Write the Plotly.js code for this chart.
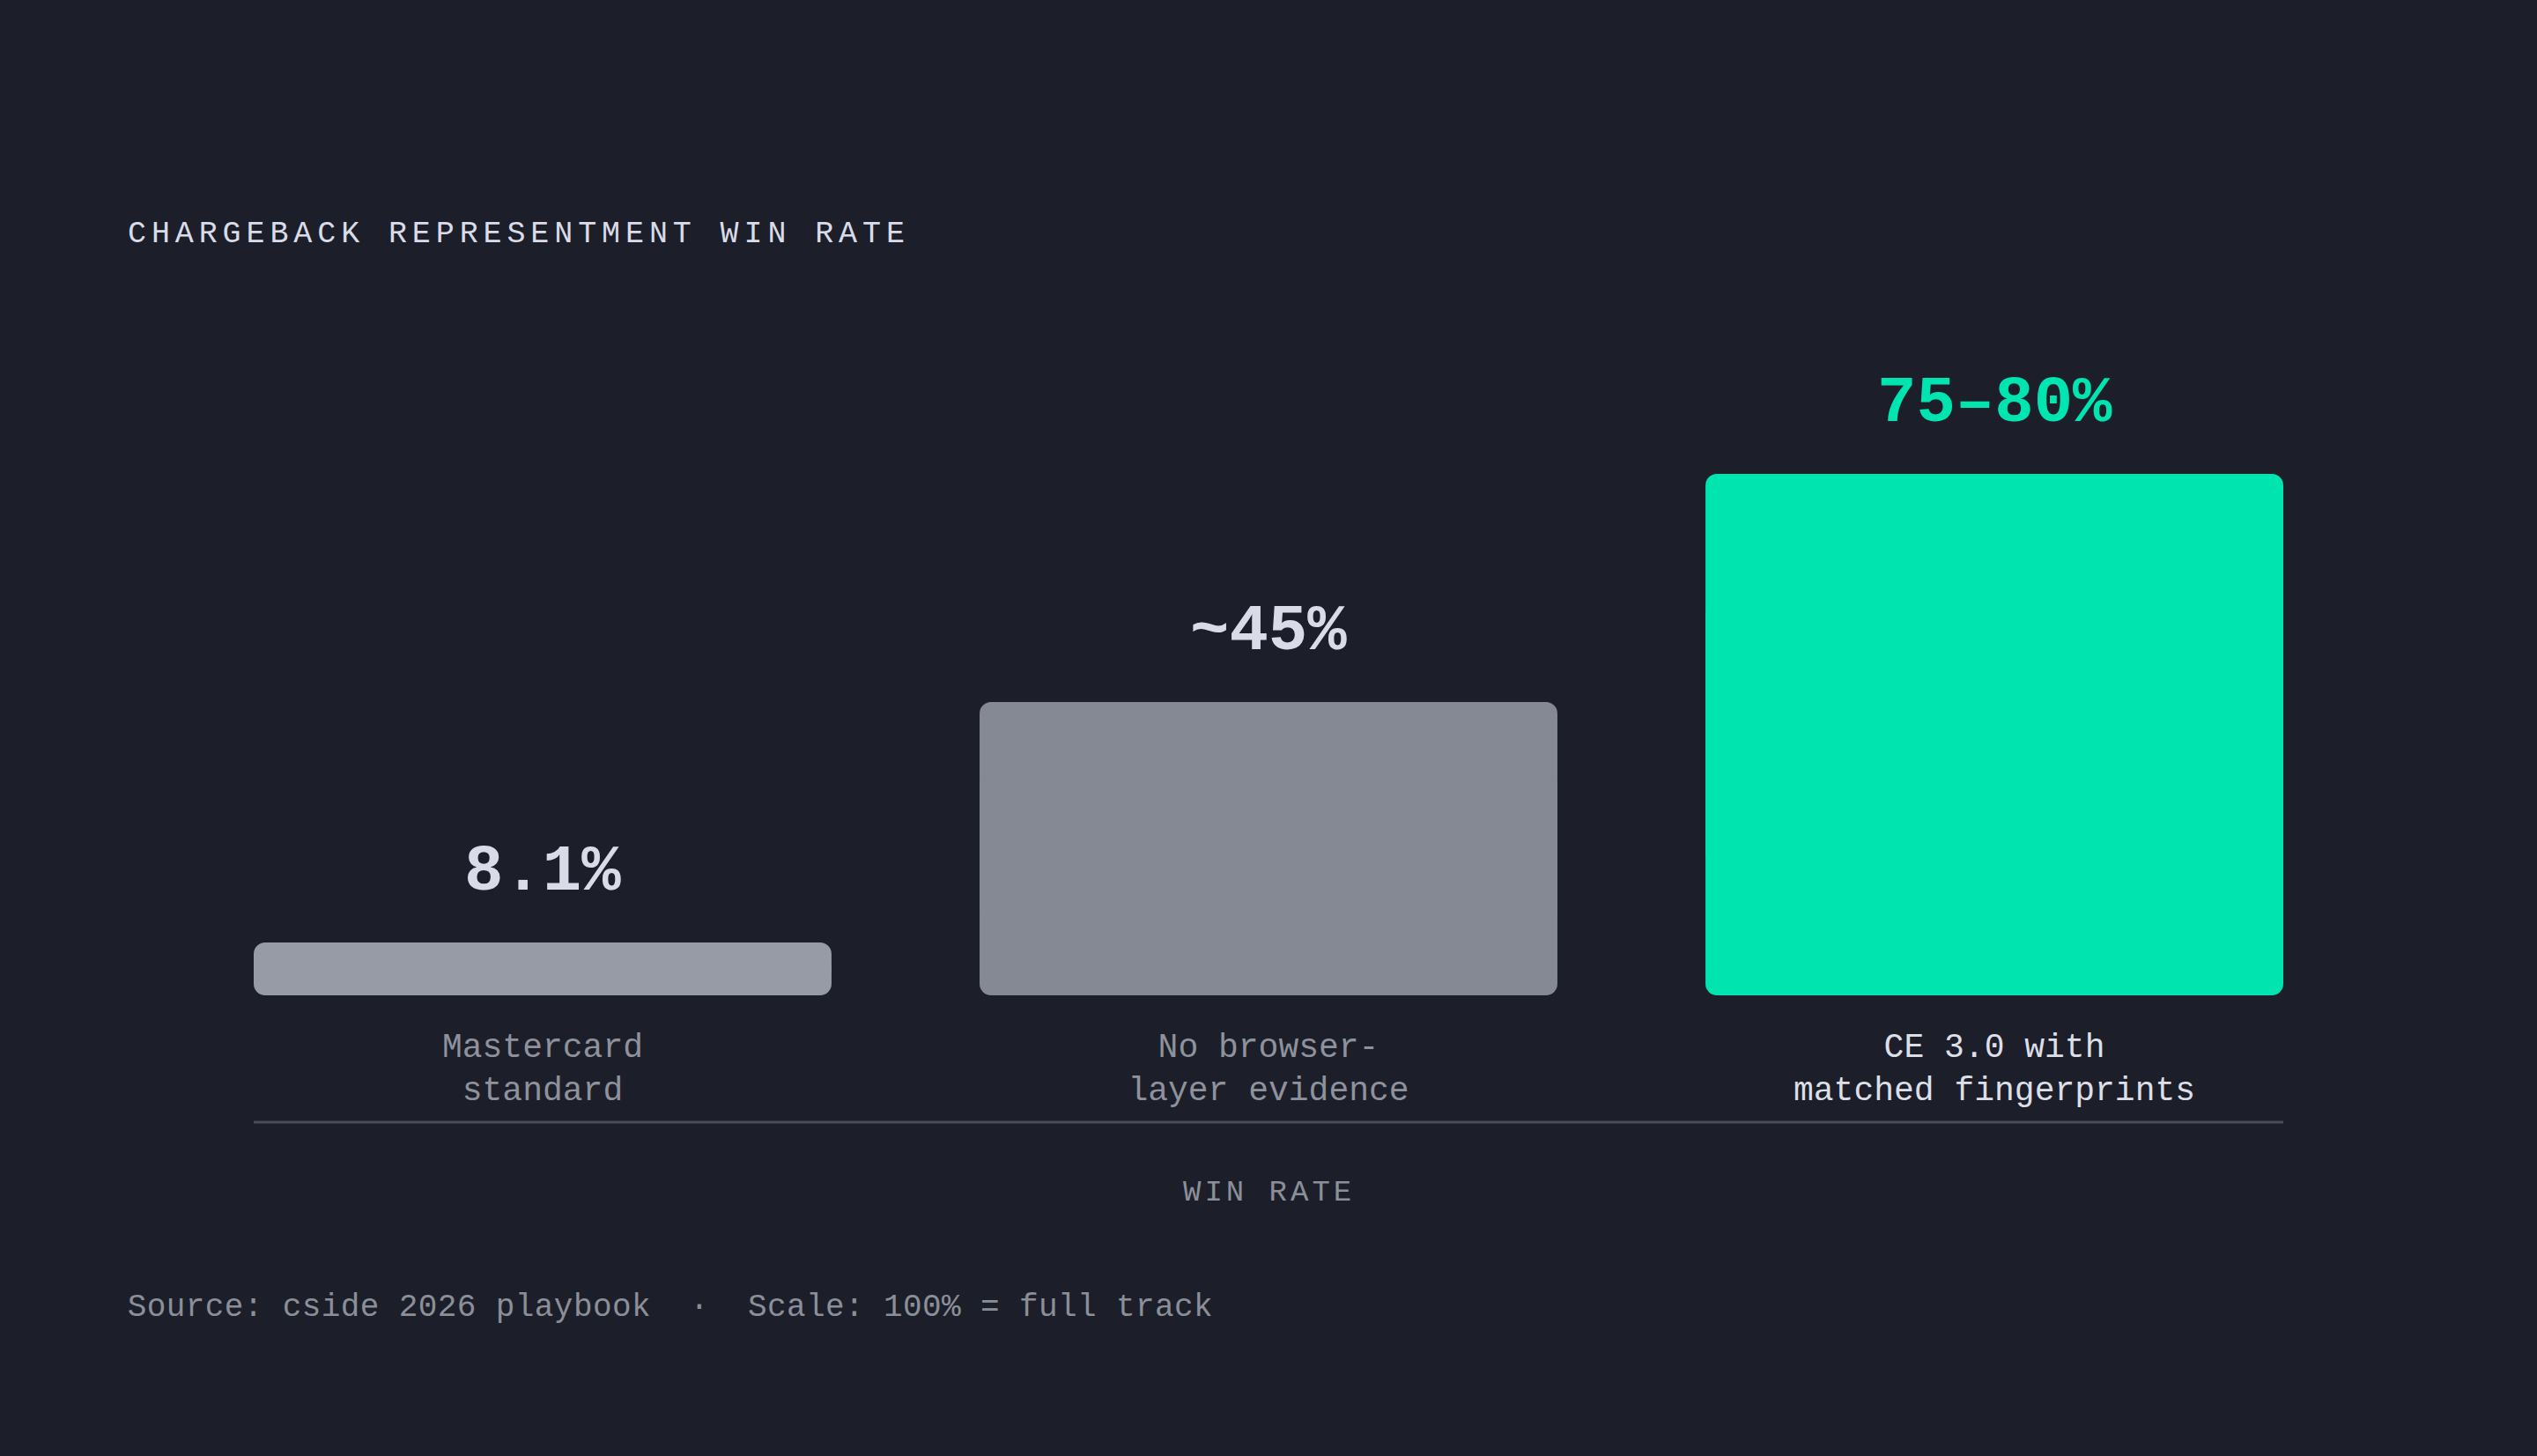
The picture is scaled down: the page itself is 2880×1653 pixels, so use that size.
<!DOCTYPE html>
<html>
<head>
<meta charset="utf-8">
<script src="https://cdn.plot.ly/plotly-3.0.1.min.js"></script>
<style>
  html, body { margin: 0; padding: 0; background: #1c1f29; }
  #chart { width: 2880px; height: 1653px; }
  /* plotly has no letter-spacing option, so the spaced caps come from css */
  #chart .gtitle { letter-spacing: 5.9px; }
  #chart .annotation[data-index="3"] .annotation-text { letter-spacing: 4px; }
  #chart .annotation[data-index="4"] .annotation-text { letter-spacing: 0.4px; }
</style>
</head>
<body>
<div id="chart"></div>
<script>
  const BG = '#1c1f29';
  const MONO = '"Liberation Mono", "DejaVu Sans Mono", monospace';

  // data
  const categories = ['Mastercard standard', 'No browser-layer evidence', 'CE 3.0 with matched fingerprints'];
  const tickLabels = ['Mastercard<br>standard', 'No browser-<br>layer evidence', 'CE 3.0 with<br>matched fingerprints'];
  const winRates = [8.1, 45, 80];
  const valueLabels = ['8.1%', '~45%', '75–80%'];

  // styles
  const barColors = ['#979ba5', '#858994', '#00e5b0'];
  const valueColors = ['#d9dce8', '#d9dce8', '#00e5b0'];
  const tickColors = ['#8e929c', '#8e929c', '#dcdfe8'];
  const RADIUS = 13;

  // each bar is two overlapping pieces so both ends get rounded corners
  const topPiece = {
    type: 'bar',
    x: categories,
    y: winRates.map(v => v * 0.75),
    base: winRates.map(v => v * 0.25),
    marker: { color: barColors, cornerradius: RADIUS, line: { width: 0 } },
    hoverinfo: 'skip'
  };
  const bottomPiece = {
    type: 'bar',
    x: categories,
    y: winRates.map(v => -v * 0.75),
    base: winRates.map(v => v * 0.75),
    marker: { color: barColors, cornerradius: RADIUS, line: { width: 0 } },
    hoverinfo: 'skip'
  };

  const valueNotes = categories.map((c, i) => ({
    x: c,
    y: winRates[i],
    xref: 'x',
    yref: 'y',
    text: valueLabels[i],
    showarrow: false,
    xanchor: 'center',
    yanchor: 'bottom',
    yshift: 36,
    font: { family: MONO, size: 74, weight: 700, color: valueColors[i] }
  }));

  const layout = {
    width: 2880,
    height: 1653,
    paper_bgcolor: BG,
    plot_bgcolor: BG,
    margin: { l: 288, r: 288, t: 390, b: 523 },
    showlegend: false,
    barmode: 'overlay',
    bargap: 0.204,
    title: {
      text: 'CHARGEBACK REPRESENTMENT WIN RATE',
      xref: 'container',
      yref: 'container',
      x: 145 / 2880,
      xanchor: 'left',
      y: 1 - 263 / 1653,
      yanchor: 'middle',
      font: { family: MONO, size: 35, color: '#d9dce8' }
    },
    xaxis: {
      type: 'category',
      range: [-0.398, 2.398],
      tickvals: categories,
      ticktext: tickLabels.map((t, i) => `<span style="color:${tickColors[i]}">${t}</span>`),
      tickfont: { family: MONO, size: 38, color: tickColors[0] },
      ticks: '',
      ticklabelstandoff: 31,
      showline: false,
      showgrid: false,
      zeroline: false,
      fixedrange: true
    },
    yaxis: {
      range: [0, 100],
      visible: false,
      showgrid: false,
      zeroline: false,
      fixedrange: true
    },
    shapes: [{
      type: 'line',
      xref: 'paper',
      yref: 'paper',
      x0: 0,
      x1: 1,
      y0: -0.1946,
      y1: -0.1946,
      line: { color: '#4a4d58', width: 3 }
    }],
    annotations: valueNotes.concat([
      {
        text: 'WIN RATE',
        xref: 'paper',
        yref: 'paper',
        x: 0.5,
        y: -0.3027,
        xanchor: 'center',
        yanchor: 'middle',
        showarrow: false,
        font: { family: MONO, size: 34, color: '#8b8f99' }
      },
      {
        text: 'Source: cside 2026 playbook  ·  Scale: 100% = full track',
        xref: 'paper',
        yref: 'paper',
        x: (154 - 288) / 2304,
        y: -0.4797,
        xanchor: 'left',
        yanchor: 'middle',
        showarrow: false,
        font: { family: MONO, size: 36, color: '#8b8f99' }
      }
    ])
  };

  Plotly.newPlot('chart', [topPiece, bottomPiece], layout, { displayModeBar: false, staticPlot: true });
</script>
</body>
</html>
